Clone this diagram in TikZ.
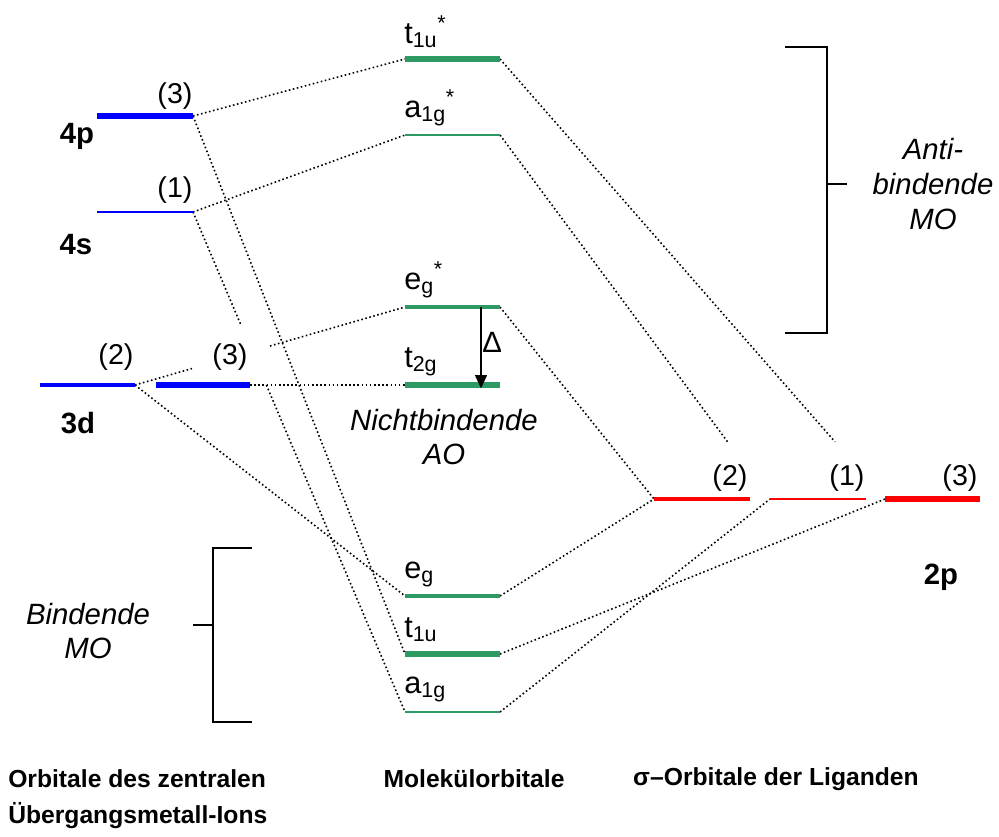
\documentclass[tikz,border=0pt]{standalone}
\usepackage{fontspec}
\setmainfont{Liberation Sans}
\usetikzlibrary{arrows.meta,calc}
\definecolor{mogreen}{HTML}{2E9A63}
\begin{document}
\begin{tikzpicture}[x=0.75pt,y=-0.75pt,
  thickb/.style={line width=4.5pt},
  medb/.style={line width=3pt},
  thinb/.style={line width=1.4pt},
  conn/.style={line width=1.2pt, dash pattern=on 1.2pt off 1.9pt},
  brk/.style={line width=1.1pt},
  lab/.style={font=\fontsize{21.5}{24}\selectfont, inner sep=0pt},
  bl/.style={font=\fontsize{22}{24}\selectfont\bfseries, inner sep=0pt},
  bot/.style={font=\fontsize{18.5}{22}\selectfont\bfseries, inner sep=0pt},
  itl/.style={font=\fontsize{22}{26}\selectfont\itshape, align=center, inner sep=0pt},
  mo/.style={font=\fontsize{23}{26}\selectfont, inner sep=0pt, anchor=base west},
]
\useasboundingbox (0,0) rectangle (999,836);
% metal AO levels
\coordinate (p4L) at (97,116);  \coordinate (p4R) at (193,116);
\coordinate (s4L) at (97,212);  \coordinate (s4R) at (193,212);
\coordinate (d2L) at (40,385);  \coordinate (d2R) at (135,385);
\coordinate (d3L) at (156,385); \coordinate (d3R) at (250,385);
% MO levels
\coordinate (t1usL) at (405,59);  \coordinate (t1usR) at (500,59);
\coordinate (a1gsL) at (405,135); \coordinate (a1gsR) at (500,135);
\coordinate (egsL) at (405,307);  \coordinate (egsR) at (500,307);
\coordinate (t2gL) at (405,385);  \coordinate (t2gR) at (500,385);
\coordinate (egL) at (405,596);   \coordinate (egR) at (500,596);
\coordinate (t1uL) at (405,654);  \coordinate (t1uR) at (500,654);
\coordinate (a1gL) at (405,712);  \coordinate (a1gR) at (500,712);
% ligand levels
\coordinate (r2L) at (654,499); \coordinate (r2R) at (750,499);
\coordinate (r1L) at (770,499); \coordinate (r1R) at (866,499);
\coordinate (r3L) at (885,499); \coordinate (r3R) at (980,499);

% connectors
\draw[conn] (p4R) -- (t1usL);
\draw[conn] (p4R) -- (t1uL);
\draw[conn] (s4R) -- (a1gsL);
\draw[conn] (s4R) -- ($(s4R)!0.226!(a1gL)$);
\draw[conn] ($(s4R)!0.346!(a1gL)$) -- (a1gL);
\draw[conn] (d2R) -- ($(d2R)!0.211!(egsL)$);
\draw[conn] ($(d2R)!0.5!(egsL)$) -- (egsL);
\draw[conn] (d2R) -- (egL);
\draw[conn] (d3R) -- (t2gL);
\draw[conn] (t1usR) -- ($(t1usR)!0.87!(r3L)$);
\draw[conn] (a1gsR) -- ($(a1gsR)!0.843!(r1L)$);
\draw[conn] (egsR) -- (r2L);
\draw[conn] (egR) -- (r2L);
\draw[conn] (t1uR) -- (r3L);
\draw[conn] (a1gR) -- (r1L);

% bars
\draw[blue, thickb] (p4L) -- (p4R);
\draw[blue, thinb] (s4L) -- (s4R);
\draw[blue, medb] (d2L) -- (d2R);
\draw[blue, thickb] (d3L) -- (d3R);
\draw[mogreen, thickb] (t1usL) -- (t1usR);
\draw[mogreen, thinb] (a1gsL) -- (a1gsR);
\draw[mogreen, medb] (egsL) -- (egsR);
\draw[mogreen, thickb] (t2gL) -- (t2gR);
\draw[mogreen, medb] (egL) -- (egR);
\draw[mogreen, thickb] (t1uL) -- (t1uR);
\draw[mogreen, thinb] (a1gL) -- (a1gR);
\draw[red, medb] (r2L) -- (r2R);
\draw[red, thinb] (r1L) -- (r1R);
\draw[red, thickb] (r3L) -- (r3R);

% Delta arrow
\coordinate (dtop) at ($(egsL)!0.8!(egsR)$);
\coordinate (dbot) at ($(t2gL)!0.8!(t2gR)$);
\draw[line width=1.1pt, -{Triangle[length=10pt,width=9pt]}] (dtop) -- ([yshift=-2.5pt]dbot);
\node[lab, font=\fontsize{22}{24}\selectfont, anchor=west] (delta) at (482,342) {Δ};

% brackets
\draw[brk] (785,47) -- (827,47) -- (827,333) -- (785,333);
\draw[brk] (827,184) -- (847,184);
\draw[brk] (252,548) -- (213,548) -- (213,722) -- (252,722);
\draw[brk] (193,625) -- (213,625);

% AO labels
\node[lab] (n4p) at (175,96) {(3)};
\node[lab] (n4s) at (175,190) {(1)};
\node[lab] (n3d2) at (116,357) {(2)};
\node[lab] (n3d3) at (230,357) {(3)};
\node[bl] (l4p) at (77,136) {4p};
\node[bl] (l4s) at (76,245) {4s};
\node[bl] (l3d) at (78,423) {3d};
% ligand labels
\node[lab] (nr2) at (730,478) {(2)};
\node[lab] (nr1) at (847,478) {(1)};
\node[lab] (nr3) at (960,478) {(3)};
\node[bl] (l2p) at (941,577) {2p};
% MO labels
\node[mo] (mt1us) at (404,43) {t\textsubscript{1u}\textsuperscript{*}};
\node[mo] (ma1gs) at (404,117) {a\textsubscript{1g}\textsuperscript{*}};
\node[mo] (megs) at (404,289) {e\textsubscript{g}\textsuperscript{*}};
\node[mo] (mt2g) at (404,367) {t\textsubscript{2g}};
\node[mo] (meg) at (404,578) {e\textsubscript{g}};
\node[mo] (mt1u) at (404,637) {t\textsubscript{1u}};
\node[mo] (ma1g) at (404,693) {a\textsubscript{1g}};
% italic texts
\node[itl] (nb) at (444,437) {Nichtbindende\\AO};
\node[itl] (ab) at (933,184) {Anti-\\bindende\\MO};
\node[itl] (bd) at (88,631) {Bindende\\MO};
% bottom captions
\node[bot, anchor=west] (c1) at (8,779) {Orbitale des zentralen};
\node[bot, anchor=west] (c2) at (8,816) {Übergangsmetall-Ions};
\node[bot] (c3) at (474,779) {Molekülorbitale};
\node[bot] (c4) at (776,779) {σ–Orbitale der Liganden};
\end{tikzpicture}
\end{document}
